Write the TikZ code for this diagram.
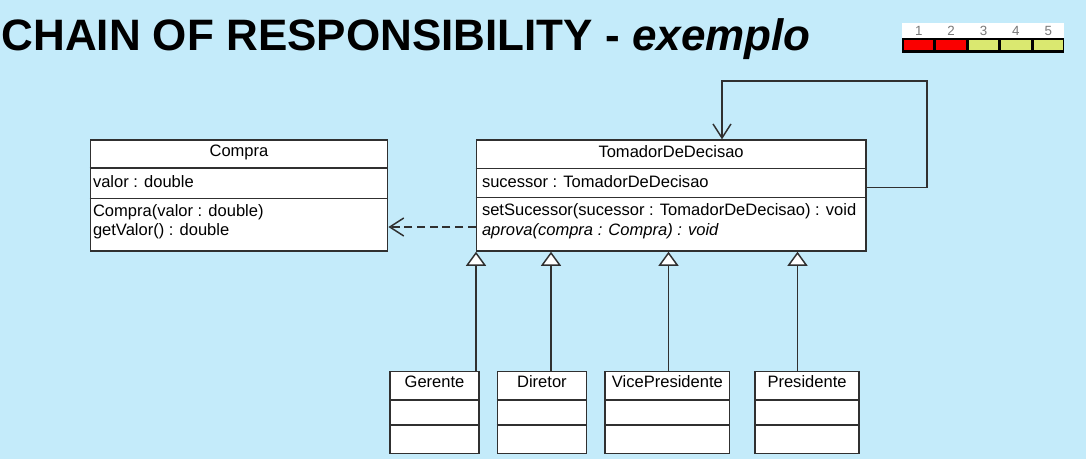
\documentclass[tikz,border=0pt]{standalone}
\usepackage{fontspec}
\setmainfont{Liberation Sans}
\usetikzlibrary{arrows.meta}
\definecolor{bgblue}{RGB}{196,235,250}
\definecolor{linegray}{RGB}{48,48,48}
\definecolor{ratered}{RGB}{250,0,0}
\definecolor{rateyellow}{RGB}{218,232,112}
\definecolor{rategray}{RGB}{120,120,120}
\tikzset{every picture/.style={line width=0.75pt}}

\begin{document}
\begin{tikzpicture}[x=0.75pt,y=0.75pt,yscale=-1,xscale=1,
  umlclass/.style={draw=linegray, fill=white, line width=1.1pt, inner sep=0pt, anchor=north west},
  umltext/.style={inner sep=0pt, font=\fontsize{12.4}{14}\selectfont},
  sepline/.style={draw=linegray, line width=1.1pt},
  inherit/.style={draw=linegray, line width=1.1pt, -{Triangle[open, fill=white, length=10.5pt, width=15pt]}},
  assoc/.style={draw=linegray, line width=1.1pt, -{Straight Barb[length=10.5pt, width=13.5pt]}},
  depend/.style={assoc, dash pattern=on 6pt off 3.5pt}]
%set diagram left start at 0, and has height of 459
\path [fill=bgblue] (0,0) rectangle (1086,459);

% Text Node
\node (title) [anchor=base west, inner sep=0pt, font=\fontsize{33}{36}\selectfont\bfseries] at (1,51) {CHAIN OF RESPONSIBILITY - \textit{exemplo}};

%Shape: Rectangle [rating bar]
\path [fill=white] (902,23) rectangle (1064,53);
\path [fill=black] (902,38) rectangle (1064,53);
\foreach \i/\c in {1/ratered,2/ratered,3/rateyellow,4/rateyellow,5/rateyellow}{
  \path [fill=\c] ({904+(\i-1)*32.4},40) rectangle ({933.3+(\i-1)*32.4},50.5);
  \node (rate\i) [inner sep=0pt, text=rategray, font=\fontsize{10}{10}\selectfont] at ({918.7+(\i-1)*32.4},30.5) {\i};
}

%Shape: Class [Compra]
\node (compra) [umlclass, minimum width=223.1pt, minimum height=83.25pt] at (89.5,139.3) {};
\draw [sepline] (compra.west |- 0,168) -- (compra.east |- 0,168);
\draw [sepline] (compra.west |- 0,198.5) -- (compra.east |- 0,198.5);
% Text Node
\node (compraName) [umltext] at (compra.north |- 0,152) {Compra};
\node (valor) [umltext, anchor=west] at (92.5,181.5) {valor : double};
\node (ctor) [umltext, anchor=west] at (92.5,212) {Compra(valor : double)};
\node (getValor) [umltext, anchor=west] at (92.5,231) {getValor() : double};

%Shape: Class [TomadorDeDecisao]
\node (tomador) [umlclass, minimum width=292pt, minimum height=83.25pt] at (475.7,139.3) {};
\draw [sepline] (tomador.west |- 0,168.3) -- (tomador.east |- 0,168.3);
\draw [sepline] (tomador.west |- 0,197.7) -- (tomador.east |- 0,197.7);
% Text Node
\node (tomadorName) [umltext] at (tomador.north |- 0,152) {TomadorDeDecisao};
\node (sucessor) [umltext, anchor=west] at (481.5,181.5) {sucessor : TomadorDeDecisao};
\node (setSucessor) [umltext, anchor=west] at (481.5,211) {setSucessor(sucessor : TomadorDeDecisao) : void};
\node (aprova) [umltext, anchor=west, font=\fontsize{12.4}{14}\selectfont\itshape] at (481.5,231) {aprova(compra : Compra) : void};

%Shape: Class [subclasses]
\node (gerente) [umlclass, minimum width=66.75pt, minimum height=61.5pt] at (389.3,370.7) {};
\node (diretor) [umlclass, minimum width=66.75pt, minimum height=61.5pt] at (496.7,370.7) {};
\node (vice) [umlclass, minimum width=93.5pt, minimum height=61.5pt] at (604.3,370.7) {};
\node (presidente) [umlclass, minimum width=78pt, minimum height=61.5pt] at (754.3,370.7) {};
\foreach \n in {gerente,diretor,vice,presidente}{
  \draw [sepline] (\n.west |- 0,400) -- (\n.east |- 0,400);
  \draw [sepline] (\n.west |- 0,425) -- (\n.east |- 0,425);
}
% Text Node
\node (gerenteName) [umltext] at (gerente.north |- 0,382) {Gerente};
\node (diretorName) [umltext] at (diretor.north |- 0,382) {Diretor};
\node (viceName) [umltext] at (vice.north |- 0,382) {VicePresidente};
\node (presidenteName) [umltext] at (presidente.north |- 0,382) {Presidente};

%Straight Lines [inheritance]
\draw [inherit] (gerente.north -| 476,0) -- (tomador.south -| 476,0);
\draw [inherit] (diretor.north -| 551,0) -- (tomador.south -| 551,0);
\draw [inherit] (vice.north -| 668.5,0) -- (tomador.south -| 668.5,0);
\draw [inherit] (presidente.north -| 797.5,0) -- (tomador.south -| 797.5,0);

%Straight Lines [dependency]
\draw [depend] (tomador.west |- 0,227) -- (compra.east |- 0,227);

%Straight Lines [self association]
\coordinate (loopCorner) at (927,81);
\draw [assoc] (tomador.east |- 0,187.3) -| (loopCorner) -| (tomador.north -| 722,0);

\end{tikzpicture}
\end{document}
